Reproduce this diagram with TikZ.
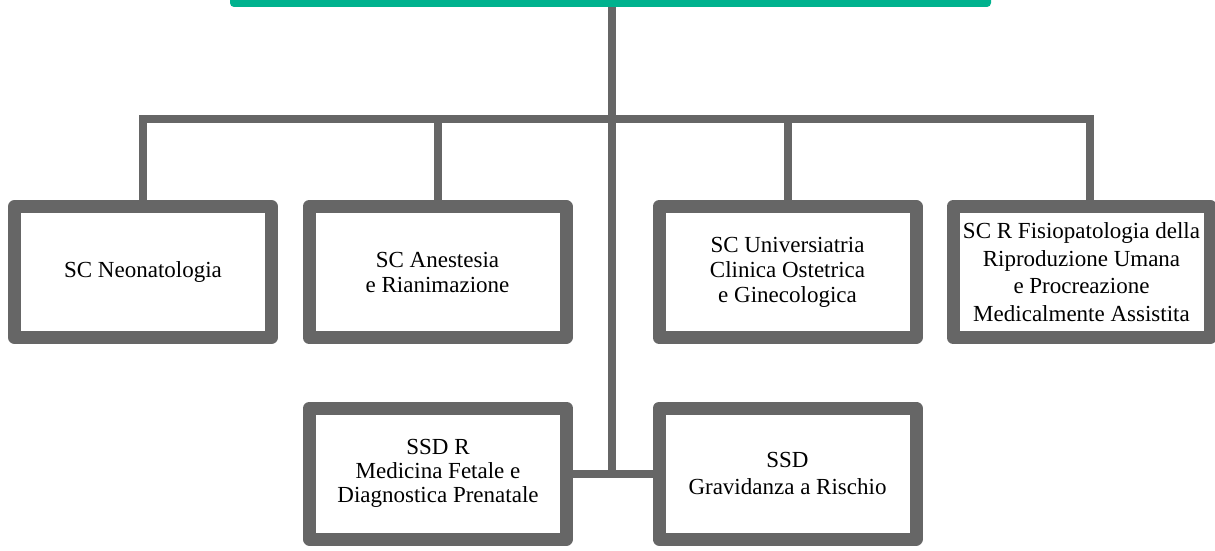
\documentclass[tikz,border=0pt]{standalone}
\usepackage{fontspec}
\setmainfont{Liberation Serif}
\usetikzlibrary{positioning}
\definecolor{barGreen}{RGB}{0,178,142}
\definecolor{boxGray}{RGB}{102,102,102}

\begin{document}
\begin{tikzpicture}[x=1pt,y=-1pt]
\tikzset{unit/.style = {shape=rectangle,draw=boxGray,fill=white,line width=13pt,line join=round,
  minimum width=257pt,minimum height=131pt,inner sep=0pt,align=center,
  font=\fontsize{23}{25}\selectfont}}
\tikzset{link/.style = {draw=boxGray,line width=8pt,line cap=rect}}
\useasboundingbox (0,0) rectangle (1215,551);
\fill[white] (0,0) rectangle (1215,551);

% boxes
\node[shape=rectangle,fill=barGreen,rounded corners=4pt,minimum width=761pt,minimum height=17pt,inner sep=0pt] (top) at (610.5,-1.5) {};
\node[unit] (neo) at (143,272) {SC Neonatologia};
\node[unit] (ane) at (437.5,272) {SC Anestesia\\e Rianimazione};
\node[unit] (gin) at (787.5,272) {SC Universiatria\\Clinica Ostetrica\\e Ginecologica};
\node[unit,font=\fontsize{23}{27.5}\selectfont] (pma) at (1081.5,272) {SC R Fisiopatologia della\\Riproduzione Umana\\e Procreazione\\Medicalmente Assistita};
\node[unit,font=\fontsize{23}{24}\selectfont] (fet) at (438,473.5) {SSD R\\Medicina Fetale e\\Diagnostica Prenatale};
\node[unit,font=\fontsize{23}{27}\selectfont] (gra) at (787.5,473.5) {SSD\\Gravidanza a Rischio};

\coordinate (bus) at (612,119);
\coordinate (hub) at (612,473.5);
\coordinate (d4) at (1090,119);

%links
\draw[link,line cap=butt] (top.south -| hub) -- (hub);
\draw[link] (neo.north |- bus) -- (d4);
\draw[link] (neo.north |- bus) -- (neo.north);
\draw[link] (ane.north |- bus) -- (ane.north);
\draw[link] (gin.north |- bus) -- (gin.north);
\draw[link] (d4) -- (d4 |- pma.north);
\draw[link] (fet.east) -- (gra.west);

\end{tikzpicture}
\end{document}
